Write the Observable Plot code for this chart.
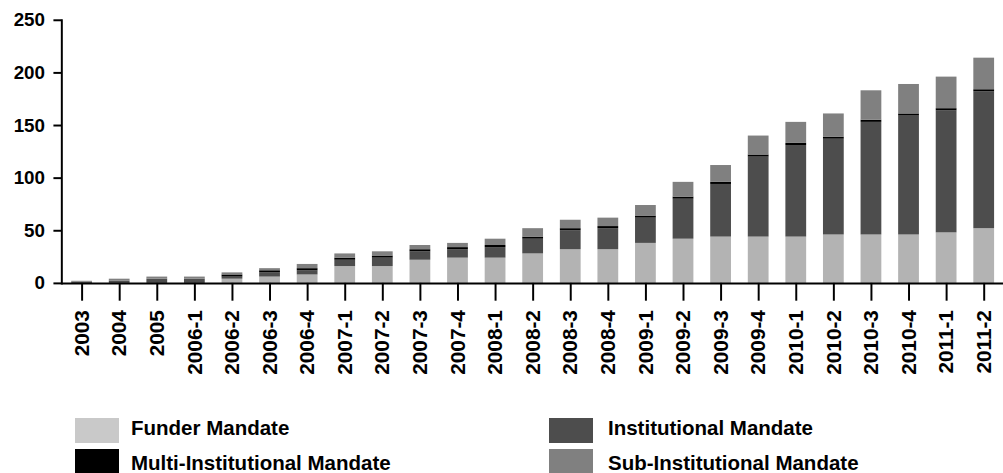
<!DOCTYPE html>
<html>
<head>
<meta charset="utf-8">
<script src="https://cdn.jsdelivr.net/npm/d3@7"></script>
<script src="https://cdn.jsdelivr.net/npm/@observablehq/plot@0.6"></script>
<style>
  html, body { margin: 0; padding: 0; background: #fff; overflow: hidden; }
  #wrap { position: relative; width: 1003px; height: 473px; overflow: hidden; }
  #chart { position: absolute; left: 0; top: 0; }
  .sw { position: absolute; width: 44px; height: 25px; }
  .lt { position: absolute; height: 20px; line-height: 20px; font-family: "Liberation Sans", Arial, sans-serif; font-weight: bold; font-size: 20.5px; color: #000; white-space: nowrap; }
</style>
</head>
<body>
<div id="wrap">
  <div id="chart"></div>
  <div id="legend"></div>
</div>
<script>
const categories = ["2003","2004","2005","2006-1","2006-2","2006-3","2006-4","2007-1","2007-2","2007-3","2007-4","2008-1","2008-2","2008-3","2008-4","2009-1","2009-2","2009-3","2009-4","2010-1","2010-2","2010-3","2010-4","2011-1","2011-2"];
const series = ["Funder Mandate","Institutional Mandate","Multi-Institutional Mandate","Sub-Institutional Mandate"];
const funder        = [0,0,0,0,4,6,8,16,16,22,24,24,28,32,32,38,42,44,44,44,46,46,46,48,52];
const institutional = [1,2,4,4,2,4,4,6,8,8,8,10,14,18,20,24,38,50,76,87,91,107,113,116,130];
const multi         = [0,0,0,0,2,2,2,2,2,2,2,2,2,2,2,2,2,2,2,2,2,2,2,2,2];
const sub           = [1,2,2,2,2,2,4,4,4,4,4,6,8,8,8,10,14,16,18,20,22,28,28,30,30];
const yTicks = [0,50,100,150,200,250];
const barColors = ["#b3b3b3","#4d4d4d","#000000","#808080"];
const swatchColors = ["#c9c9c9","#4d4d4d","#000000","#808080"];

const values = [funder, institutional, multi, sub];
const data = categories.flatMap((c, i) => series.map((s, j) => ({category: c, series: s, value: values[j][i]})));

const chart = Plot.plot({
  width: 1014,
  height: 410,
  marginLeft: 62,
  marginRight: 0,
  marginTop: 20,
  marginBottom: 124,
  style: {fontFamily: "'Liberation Sans', Arial, sans-serif", fontWeight: "bold", color: "#000", background: "white", overflow: "visible"},
  x: {domain: categories, paddingInner: 0.45, paddingOuter: 0.225},
  y: {domain: [0, 250]},
  color: {domain: series, range: barColors},
  marks: [
    Plot.barY(data, {x: "category", y: "value", fill: "series", order: series}),
    Plot.axisY({ticks: yTicks, tickSize: 8, tickPadding: 9, fontSize: 19, label: null, strokeWidth: 2}),
    Plot.axisX({tickSize: 18, tickPadding: 9, tickRotate: -90, fontSize: 21, label: null, strokeWidth: 2}),
    Plot.ruleY([0], {strokeWidth: 2}),
    Plot.frame({anchor: "left", strokeWidth: 2})
  ]
});
document.getElementById("chart").appendChild(chart);

// Legend (two columns, row-wise order)
const legendPos = [
  {sx: 75, tx: 131, top: 418, ttop: 418},
  {sx: 549, tx: 608, top: 418, ttop: 418},
  {sx: 75, tx: 131, top: 449, ttop: 453},
  {sx: 549, tx: 608, top: 449, ttop: 453}
];
const leg = document.getElementById("legend");
series.forEach((s, k) => {
  const p = legendPos[k];
  const sw = document.createElement("div");
  sw.className = "sw";
  sw.style.left = p.sx + "px";
  sw.style.top = p.top + "px";
  sw.style.background = swatchColors[k];
  leg.appendChild(sw);
  const t = document.createElement("div");
  t.className = "lt";
  t.style.left = p.tx + "px";
  t.style.top = p.ttop + "px";
  t.textContent = s;
  leg.appendChild(t);
});
</script>
</body>
</html>
